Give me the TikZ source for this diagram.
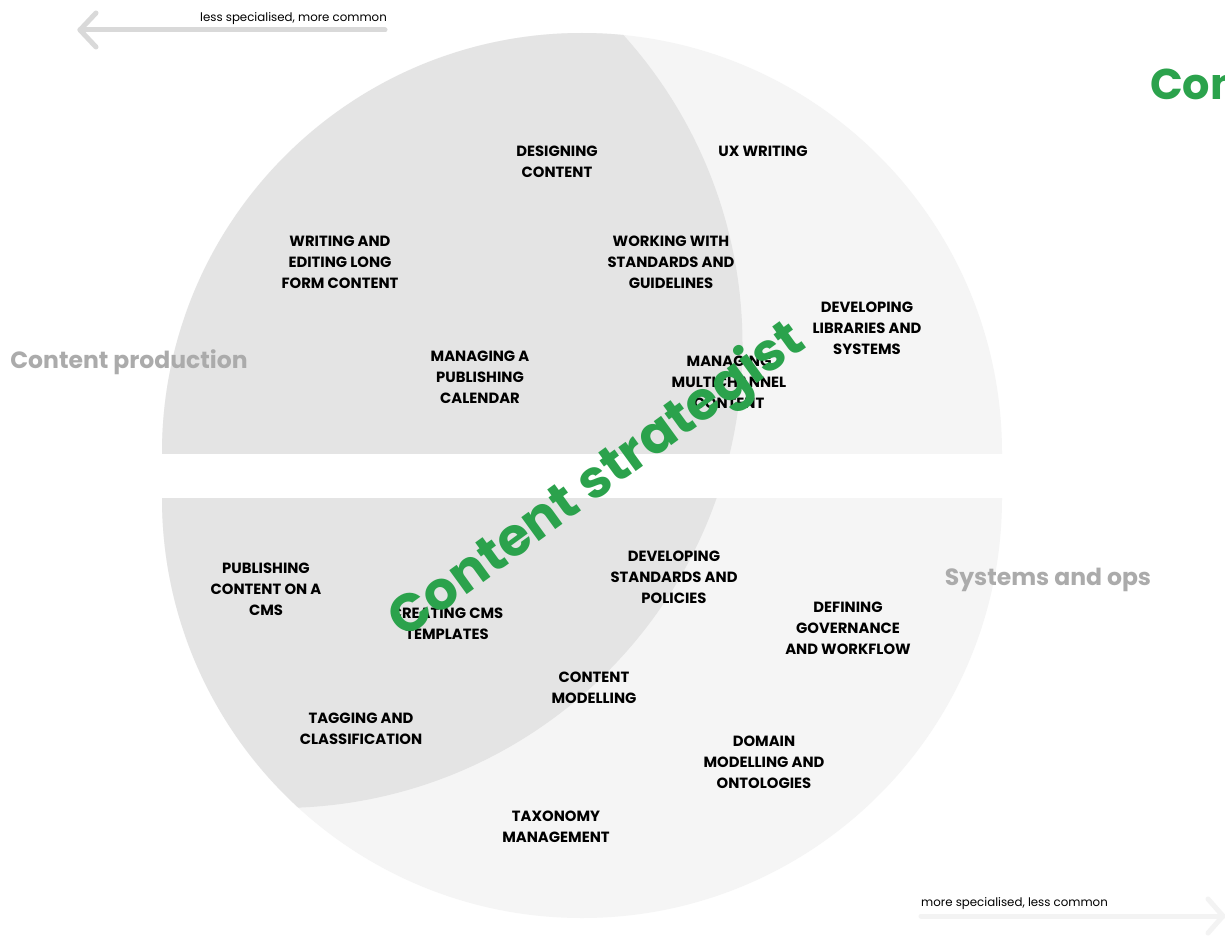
\documentclass[tikz,border=0pt]{standalone}
\usepackage{fontspec}
\setmainfont{Poppins}
\definecolor{lightdisk}{HTML}{F5F5F5}
\definecolor{darkdisk}{HTML}{E4E4E4}
\definecolor{stratgreen}{HTML}{2BA24C}
\definecolor{grouplabel}{HTML}{ABABAB}
\definecolor{arrowtop}{HTML}{D9D9D9}
\definecolor{arrowbot}{HTML}{F3F3F3}
\begin{document}
\begin{tikzpicture}[x=1pt,y=-1pt,
  skill/.style={font=\bfseries\fontsize{14.8}{21}\selectfont, align=center, text=black, inner sep=0pt},
  group/.style={font=\bfseries\fontsize{23.5}{28}\selectfont, text=grouplabel, inner sep=0pt},
  axislabel/.style={font=\fontsize{11.8}{13}\selectfont, text=black, inner sep=0pt},
  axisline/.style={line width=5pt, line cap=round, line join=round}]
\useasboundingbox (0,0) rectangle (1225,939);
\fill[white] (0,0) rectangle (1225,939);
% top half disk
\begin{scope}
  \clip (0,0) rectangle (1225,453);
  \fill[lightdisk] (582,453) circle[radius=420pt];
  \clip (582,453) circle[radius=420pt];
  \fill[darkdisk] (279.5,345) circle[radius=463pt];
\end{scope}
% bottom half disk
\begin{scope}
  \clip (0,498) rectangle (1225,939);
  \fill[lightdisk] (582,498) circle[radius=420pt];
  \clip (582,498) circle[radius=420pt];
  \fill[darkdisk] (279.5,345) circle[radius=463pt];
\end{scope}
% axis arrows
\coordinate (tl1) at (385,30);
\coordinate (tl2) at (80,30);
\coordinate (tlu) at (96,13);
\coordinate (tld) at (96,47);
\draw[axisline, arrowtop] (tl1) -- (tl2);
\draw[axisline, arrowtop] (tlu) -- (tl2) -- (tld);
\node[axislabel, anchor=base east] (lesslab) at (387,21.5) {less specialised, more common};
\coordinate (br1) at (921,916);
\coordinate (br2) at (1223,916);
\coordinate (bru) at (1208,899);
\coordinate (brd) at (1208,933);
\draw[axisline, arrowbot] (br1) -- (br2);
\draw[axisline, arrowbot] (bru) -- (br2) -- (brd);
\node[axislabel, anchor=base west] (morelab) at (921,906) {more specialised, less common};
% group labels
\node[group] (prod) at (129,362) {Content production};
\node[group] (sys) at (1048,580) {Systems and ops};
% skills
\node[skill] (s1) at (557,161.5) {DESIGNING\\CONTENT};
\node[skill] (s2) at (763,151) {UX WRITING};
\node[skill] (s3) at (340,262) {WRITING AND\\EDITING LONG\\FORM CONTENT};
\node[skill] (s4) at (671,262) {WORKING WITH\\STANDARDS AND\\GUIDELINES};
\node[skill] (s5) at (867,328) {DEVELOPING\\LIBRARIES AND\\SYSTEMS};
\node[skill] (s6) at (480,377) {MANAGING A\\PUBLISHING\\CALENDAR};
\node[skill] (s7) at (729,382) {MANAGING\\MULTICHANNEL\\CONTENT};
\node[skill] (s8) at (266,589) {PUBLISHING\\CONTENT ON A\\CMS};
\node[skill] (s9) at (447,623.5) {CREATING CMS\\TEMPLATES};
\node[skill] (s10) at (674,577) {DEVELOPING\\STANDARDS AND\\POLICIES};
\node[skill] (s11) at (848,628) {DEFINING\\GOVERNANCE\\AND WORKFLOW};
\node[skill] (s12) at (594,687.5) {CONTENT\\MODELLING};
\node[skill] (s13) at (361,728.5) {TAGGING AND\\CLASSIFICATION};
\node[skill] (s14) at (764,762) {DOMAIN\\MODELLING AND\\ONTOLOGIES};
\node[skill] (s15) at (556,826.5) {TAXONOMY\\MANAGEMENT};
% role label
\node[font=\bfseries\fontsize{53}{60}\selectfont, text=stratgreen, rotate=36, inner sep=0pt] (role) at (598,482) {Content strategist};
\begin{scope}
  \clip (0,0) rectangle (1225,939);
  \node[font=\bfseries\fontsize{43}{48}\selectfont, text=stratgreen, anchor=base west, inner sep=0pt] (role2) at (1150,100) {Content strategist};
\end{scope}
\end{tikzpicture}
\end{document}
